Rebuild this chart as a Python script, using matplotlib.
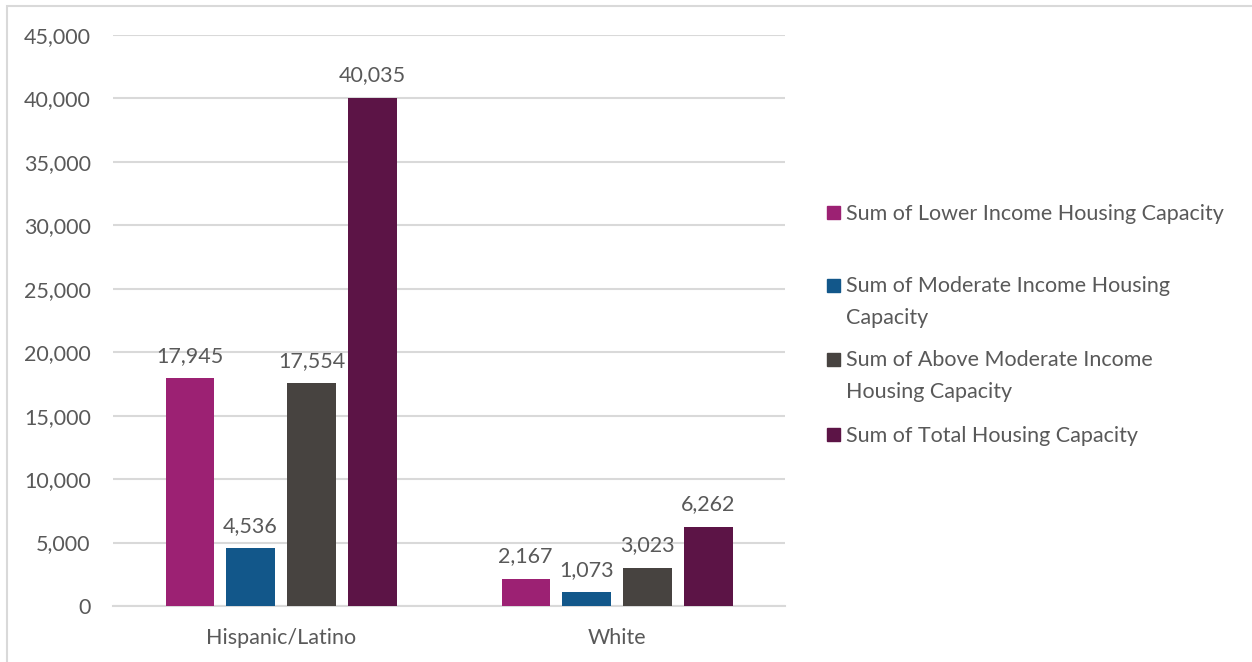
import matplotlib.pyplot as plt
from matplotlib.patches import Rectangle
import numpy as np

groups = ["Hispanic/Latino", "White"]
series = [
    "Sum of Lower Income Housing Capacity",
    "Sum of Moderate Income Housing\nCapacity",
    "Sum of Above Moderate Income\nHousing Capacity",
    "Sum of Total Housing Capacity",
]
lower = [17945, 2167]
moderate = [4536, 1073]
above = [17554, 3023]
total = [40035, 6262]
yticks = [0, 5000, 10000, 15000, 20000, 25000, 30000, 35000, 40000, 45000]

colors = ["#9C2173", "#12578A", "#474340", "#5C1446"]
text_color = "#595959"
grid_color = "#D9D9D9"
fs = 15.5

plt.rcParams['font.family'] = ['Lato', 'DejaVu Sans']

W, H = 1252, 662
fig = plt.figure(figsize=(W / 100, H / 100), dpi=100)

# outer chart border (only top and left visible in the crop)
fig.patches.append(Rectangle((7 / W, -0.1), 1.2, (H - 6) / H + 0.1,
                             transform=fig.transFigure, fill=False,
                             edgecolor=grid_color, linewidth=1.5))

ax = fig.add_axes([113 / W, 1 - 606 / H, (785 - 113) / W, (606 - 35) / H])

x = np.arange(len(groups))
width = 0.143
step = 0.1815
offsets = [-1.5 * step, -0.5 * step, 0.5 * step, 1.5 * step]

for vals, off, col in zip([lower, moderate, above, total], offsets, colors):
    bars = ax.bar(x + off, vals, width, color=col, zorder=3)
    for b, v in zip(bars, vals):
        ax.annotate(f"{v:,}", (b.get_x() + b.get_width() / 2, v),
                    xytext=(0, 9), textcoords="offset points",
                    ha="center", va="bottom", fontsize=fs, color=text_color)

ax.set_xlim(-0.5, 1.5)
ax.set_ylim(0, 45000)
ax.set_yticks(yticks)
ax.set_yticklabels([f"{t:,}" for t in yticks])
ax.set_xticks(x)
ax.set_xticklabels(groups)
ax.tick_params(axis="both", length=0, labelsize=fs, labelcolor=text_color)
ax.tick_params(axis="y", pad=16)
ax.tick_params(axis="x", pad=16)
ax.grid(axis="y", color=grid_color, linewidth=1.5, zorder=0)
for s in ["top", "right", "left"]:
    ax.spines[s].set_visible(False)
ax.spines["bottom"].set_color(grid_color)
ax.spines["bottom"].set_linewidth(1.5)

# legend drawn manually to get Excel-like evenly spaced slots
slot_y = [212, 285, 359, 434]
for lab, col, yy in zip(series, colors, slot_y):
    fig.patches.append(Rectangle((827 / W, 1 - (yy + 7) / H), 13 / W, 13 / H,
                                 transform=fig.transFigure, color=col))
    fig.text(846 / W, 1 - (yy - 8.5) / H, lab, ha="left", va="top",
             fontsize=fs, color=text_color, linespacing=1.75)

fig.savefig("out.png", dpi=100)
